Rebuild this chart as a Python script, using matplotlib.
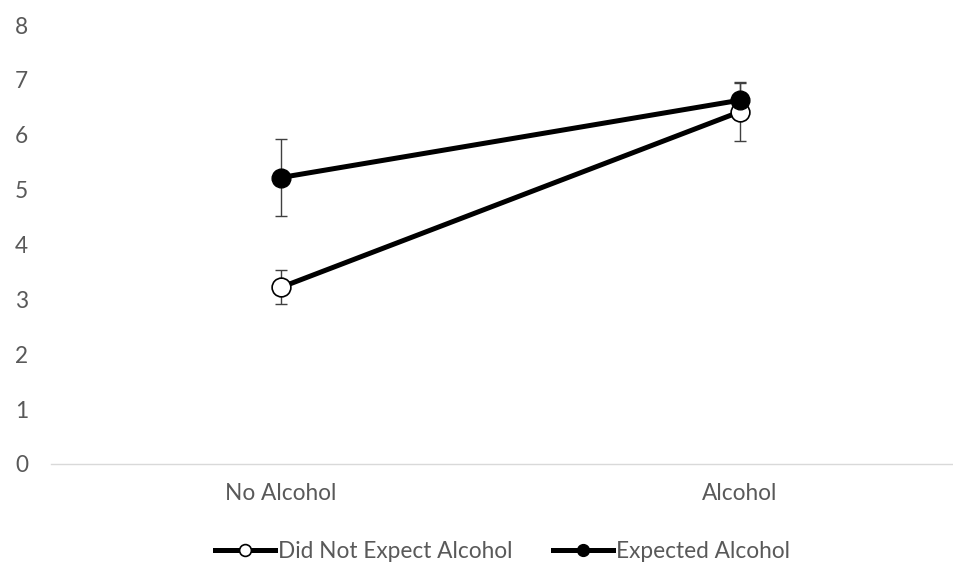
import matplotlib
matplotlib.use("Agg")
import matplotlib.pyplot as plt
import matplotlib.transforms as mtransforms

categories = ["No Alcohol", "Alcohol"]
did_not_expect = [3.22, 6.42]
did_not_expect_err = [0.31, 0.53]
expected = [5.22, 6.63]
expected_err = [0.70, 0.34]
yticks = [0, 1, 2, 3, 4, 5, 6, 7, 8]

plt.rcParams['font.family'] = ['Lato', 'DejaVu Sans']

fig = plt.figure(figsize=(9.54, 5.62), dpi=100)
ax = fig.add_axes([51/954, 1-464/562, 1-51/954, (464-25)/562])

x = list(range(len(categories)))
ax.errorbar(x, did_not_expect, yerr=did_not_expect_err, fmt='none',
            ecolor='#404040', elinewidth=1, capsize=4.3, capthick=1, zorder=2)
ax.errorbar(x, expected, yerr=expected_err, fmt='none',
            ecolor='#404040', elinewidth=1, capsize=4.3, capthick=1, zorder=2)
ax.plot(x, did_not_expect, color='black', lw=3.6, marker='o', markersize=13.5,
        markerfacecolor='white', markeredgecolor='black', markeredgewidth=1.2,
        label='Did Not Expect Alcohol', zorder=3)
ax.plot(x, expected, color='black', lw=3.6, marker='o', markersize=13.5,
        markerfacecolor='black', markeredgecolor='black',
        label='Expected Alcohol', zorder=4)

ax.set_xlim(-0.501, 1.466)
ax.set_ylim(0, 8)
ax.set_yticks(yticks)
ax.set_yticklabels([str(t) for t in yticks])
ax.set_xticks(x)
ax.set_xticklabels(categories)
for s in ['top', 'right', 'left']:
    ax.spines[s].set_visible(False)
ax.spines['bottom'].set_color('#d9d9d9')
ax.spines['bottom'].set_linewidth(1)
ax.tick_params(axis='both', length=0, labelsize=16.3, labelcolor='#595959')
ax.tick_params(axis='x', pad=14)
ax.yaxis.set_tick_params(pad=0)
offset = mtransforms.ScaledTranslation(-(51-15)/100, 0, fig.dpi_scale_trans)
for lab in ax.get_yticklabels():
    lab.set_horizontalalignment('left')
    lab.set_transform(lab.get_transform() + offset)

leg = fig.legend(loc='center', bbox_to_anchor=(502.5/954, 1-551/562), ncol=2, frameon=False,
                 fontsize=16.3, handlelength=2.65, handletextpad=0.15, columnspacing=1.75)
for h in leg.legend_handles:
    h.set_markersize(8.5)
for t in leg.get_texts():
    t.set_color('#595959')

fig.savefig("out.png", dpi=100)
